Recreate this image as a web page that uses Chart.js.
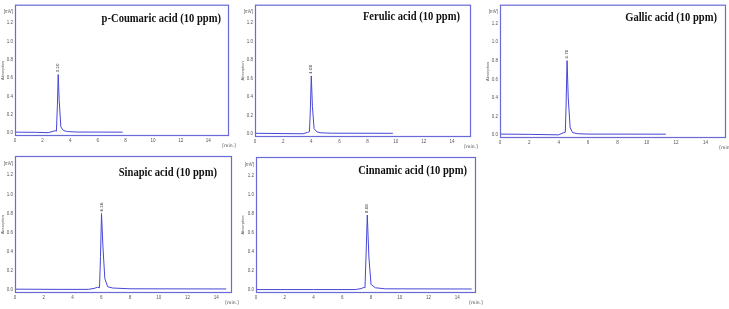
<!DOCTYPE html>
<html>
<head>
<meta charset="utf-8">
<script src="https://cdn.jsdelivr.net/npm/chart.js@4.4.1/dist/chart.umd.min.js"></script>
<style>
  body { margin: 0; background: #fff; width: 729px; height: 309px; position: relative; overflow: hidden; }
  canvas { position: absolute; }
</style>
</head>
<body>
<canvas id="c1"></canvas>
<canvas id="c2"></canvas>
<canvas id="c3"></canvas>
<canvas id="c4"></canvas>
<canvas id="c5"></canvas>
<script>
// tick values / labels
const xTicks = [0, 2, 4, 6, 8, 10, 12, 14];
const yTicks = [0, 0.2, 0.4, 0.6, 0.8, 1.0, 1.2, 1.32];
const yTickLabels = ['0.0', '0.2', '0.4', '0.6', '0.8', '1.0', '1.2', '[mV]'];

const titles = ['p-Coumaric acid (10 ppm)', 'Ferulic acid (10 ppm)', 'Gallic acid (10 ppm)',
                'Sinapic acid (10 ppm)', 'Cinnamic acid (10 ppm)'];
const peakLabels = ['3.20', '4.08', '4.70', '6.26', '8.08'];

// chromatograms (time in min, absorption)
const coumaricTime = [0, 1.5, 2.4, 2.75, 2.9, 3.0, 3.07, 3.13, 3.2, 3.32, 3.5, 3.8, 4.5, 7.8];
const coumaricAbs  = [0.012, 0.010, 0.006, 0.020, 0.028, 0.022, 0.30, 0.64, 0.36, 0.07, 0.03, 0.018, 0.013, 0.012];

const ferulicTime = [0, 2.0, 3.4, 3.75, 3.87, 3.93, 4.0, 4.08, 4.2, 4.4, 4.7, 5.5, 9.8];
const ferulicAbs  = [0.010, 0.007, 0.005, 0.020, 0.028, 0.25, 0.63, 0.30, 0.06, 0.025, 0.015, 0.011, 0.010];

const gallicTime = [0, 2.0, 4.0, 4.3, 4.45, 4.5, 4.57, 4.65, 4.78, 4.95, 5.3, 6.0, 11.3];
const gallicAbs  = [0.012, 0.009, 0.004, 0.025, 0.032, 0.30, 0.80, 0.40, 0.08, 0.028, 0.016, 0.012, 0.011];

const sinapicTime = [0, 3.0, 5.1, 5.5, 5.75, 5.88, 5.95, 6.02, 6.12, 6.25, 6.45, 6.8, 8.0, 14.7];
const sinapicAbs  = [0.010, 0.008, 0.008, 0.018, 0.030, 0.025, 0.35, 0.80, 0.45, 0.12, 0.035, 0.022, 0.014, 0.012];

const cinnamicTime = [0, 4.0, 6.9, 7.3, 7.5, 7.58, 7.66, 7.74, 7.85, 8.0, 8.3, 9.0, 15.0];
const cinnamicAbs  = [0.006, 0.006, 0.006, 0.016, 0.028, 0.025, 0.40, 0.79, 0.35, 0.06, 0.025, 0.014, 0.012];

const series = [
  [coumaricTime, coumaricAbs],
  [ferulicTime, ferulicAbs],
  [gallicTime, gallicAbs],
  [sinapicTime, sinapicAbs],
  [cinnamicTime, cinnamicAbs]
];

// panel placement on the page
const panels = [
  { id: 'c1', left: 0,   top: 0,   w: 240, h: 152, axisW: 15, padTop: 4, padRight: 11, axisH: 16, xMax: 15.5, titleRight: 8,  titleY: 14 },
  { id: 'c2', left: 240, top: 0,   w: 245, h: 152, axisW: 15, padTop: 4, padRight: 14, axisH: 15, xMax: 15.35, titleRight: 11, titleY: 12 },
  { id: 'c3', left: 485, top: 0,   w: 244, h: 152, axisW: 15, padTop: 4, padRight: 3,  axisH: 14, xMax: 15.4, titleRight: 9,  titleY: 13 },
  { id: 'c4', left: 0,   top: 150, w: 240, h: 159, axisW: 15, padTop: 6, padRight: 8,  axisH: 16, xMax: 15.1, titleRight: 15, titleY: 17 },
  { id: 'c5', left: 240, top: 150, w: 245, h: 159, axisW: 16, padTop: 7, padRight: 9,  axisH: 16, xMax: 15.3, titleRight: 9,  titleY: 14 }
];

const lineColor = 'rgb(70, 70, 215)';
const frameColor = 'rgb(105, 105, 215)';

const decorations = {
  id: 'decorations',
  afterDraw(chart, args, opts) {
    const { ctx, chartArea: a, scales: { x, y } } = chart;
    ctx.save();
    ctx.strokeStyle = frameColor;
    ctx.lineWidth = 1.2;
    ctx.strokeRect(a.left + 0.5, a.top + 0.5, a.width - 1, a.height - 1);

    // title
    ctx.fillStyle = '#111';
    ctx.font = 'bold 12px "Liberation Serif", "Times New Roman", serif';
    ctx.textBaseline = 'middle';
    ctx.textAlign = 'right';
    ctx.save();
    ctx.translate(a.right - opts.titleRight, a.top + opts.titleY);
    ctx.scale(0.88, 1);
    ctx.fillText(opts.title, 0, 0);
    ctx.restore();

    // peak label
    const ds = chart.data.datasets[0].data;
    let pk = ds[0];
    ds.forEach(p => { if (p.y > pk.y) pk = p; });
    ctx.save();
    ctx.translate(x.getPixelForValue(pk.x), y.getPixelForValue(pk.y) - 2);
    ctx.rotate(-Math.PI / 2);
    ctx.font = '4px "DejaVu Sans", sans-serif';
    ctx.fillStyle = '#333';
    ctx.textAlign = 'left';
    ctx.textBaseline = 'middle';
    ctx.fillText(opts.peak, 0, 0);
    ctx.restore();

    // x unit
    ctx.font = '4.5px "DejaVu Sans", sans-serif';
    ctx.fillStyle = '#444';
    ctx.textAlign = 'center';
    ctx.fillText('[min.]', a.right, a.bottom + 10);
    ctx.restore();
  }
};

panels.forEach((p, i) => {
  const cv = document.getElementById(p.id);
  cv.width = p.w;
  cv.height = p.h;
  cv.style.left = p.left + 'px';
  cv.style.top = p.top + 'px';
  const [t, v] = series[i];

  new Chart(cv, {
    type: 'line',
    data: {
      datasets: [{
        data: t.map((tt, k) => ({ x: tt, y: v[k] })),
        borderColor: lineColor,
        borderWidth: 1,
        pointRadius: 0,
        tension: 0,
        fill: false
      }]
    },
    options: {
      responsive: false,
      animation: false,
      layout: { padding: { top: p.padTop, right: p.padRight, left: 0, bottom: 0 } },
      plugins: {
        legend: { display: false },
        tooltip: { enabled: false },
        decorations: { title: titles[i], peak: peakLabels[i], titleRight: p.titleRight, titleY: p.titleY }
      },
      scales: {
        x: {
          type: 'linear',
          min: 0,
          max: p.xMax,
          afterBuildTicks: s => { s.ticks = xTicks.map(val => ({ value: val })); },
          afterFit: s => { s.height = p.axisH; },
          grid: { display: false, drawTicks: false },
          border: { display: false },
          ticks: { font: { size: 4.5 }, color: '#555', padding: 2, maxRotation: 0, autoSkip: false }
        },
        y: {
          min: -0.03,
          max: 1.4,
          afterBuildTicks: s => { s.ticks = yTicks.map(val => ({ value: val })); },
          afterFit: s => { s.width = p.axisW; },
          grid: { display: false, drawTicks: false },
          border: { display: false },
          title: { display: true, text: 'Absorption', font: { size: 4 }, color: '#555', padding: 0 },
          ticks: { font: { size: 4.5 }, color: '#555', padding: 2, autoSkip: false,
                   callback: (val, k) => yTickLabels[k] }
        }
      }
    },
    plugins: [decorations]
  });
});
</script>
</body>
</html>
